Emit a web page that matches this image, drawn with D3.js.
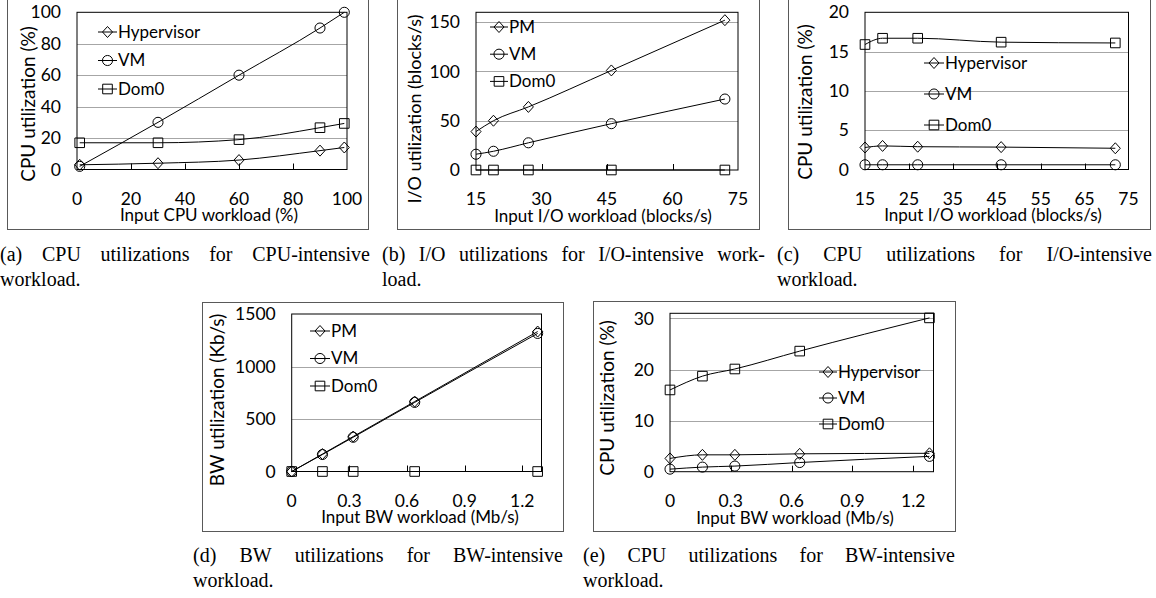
<!DOCTYPE html>
<html lang="en">
<head>
<meta charset="UTF-8">
<title>Utilization charts</title>
<script src="https://d3js.org/d3.v7.min.js"></script>
<style>
  body { margin: 0; background: #fff; }
  .lbl { font-family: Lato, sans-serif; font-size: 17.5px; fill: #000; }
  .leg { font-family: Lato, sans-serif; font-size: 17px; fill: #000; }
  .xtitle { font-family: Lato, sans-serif; font-size: 17px; fill: #000; }
  .ytitle { font-family: Lato, sans-serif; font-size: 19px; fill: #000; }
  .caption { font-family: "Liberation Serif", serif; font-size: 20px; fill: #000; }
  .grid { stroke: #a6a6a6; stroke-width: 1; }
  .frame { fill: none; stroke: #595959; stroke-width: 1; }
  .plot-box { fill: none; stroke: #000; stroke-width: 1; }
  .series { fill: none; stroke: #000; stroke-width: 1; }
  .marker { fill: none; stroke: #000; stroke-width: 1; }
</style>
</head>
<body>
<svg id="chart" width="1156" height="598"></svg>
<script>
// (a) CPU-intensive workload
const cpuLoad = [1, 30, 60, 90, 99];
const cpuHypervisor = [3, 4, 6, 12, 14];
const cpuVM = [2, 30, 60, 90, 100];
const cpuDom0 = [17, 17, 19, 26.6, 29.3];

// (b) and (c) I/O-intensive workload
const ioLoad = [15, 19, 27, 46, 72];
const ioPM = [39, 50, 64, 101, 152];
const ioVM = [16, 19, 27.6, 47, 72];
const ioDom0 = [0, 0, 0, 0, 0];
const ioCpuHypervisor = [2.8, 3.0, 2.9, 2.85, 2.7];
const ioCpuVM = [0.6, 0.6, 0.6, 0.6, 0.6];
const ioCpuDom0 = [15.9, 16.7, 16.7, 16.2, 16.1];

// (d) and (e) BW-intensive workload
const bwLoad = [0, 0.16, 0.32, 0.64, 1.28];
const bwPM = [0, 166, 333, 666, 1333];
const bwVM = [0, 162, 326, 658, 1315];
const bwDom0 = [0, 0, 0, 0, 0];
const bwCpuHypervisor = [2.6, 3.3, 3.3, 3.5, 3.6];
const bwCpuVM = [0.5, 0.9, 1.1, 1.8, 3.0];
const bwCpuDom0 = [16.0, 18.7, 20.1, 23.6, 30.1];

// tick labels
const xTicksCpu = [0, 20, 40, 60, 80, 100];
const xTicksIoB = [15, 30, 45, 60, 75];
const xTicksIoC = [15, 25, 35, 45, 55, 65, 75];
const xTicksBw = [0, 0.3, 0.6, 0.9, 1.2];
const yTicksA = [0, 20, 40, 60, 80, 100];
const yTicksB = [0, 50, 100, 150];
const yTicksC = [0, 5, 10, 15, 20];
const yTicksD = [0, 500, 1000, 1500];
const yTicksE = [0, 10, 20, 30];

const svg = d3.select('#chart');

// marker shapes, drawn around 0,0
const markerPath = {
  diamond: 'M0,-5.5L5,0L0,5.5L-5,0Z',
  circle: d3.symbol(d3.symbolCircle, 80)(),
  square: 'M-4.8,-4.8H4.8V4.8H-4.8Z'
};

const panels = [
  {
    frame: [7, -2, 368, 229], xr: [77, 347], yr: [169.5, 12.3],
    xd: [0, 100], yd: [0, 100], xt: xTicksCpu, yt: yTicksA,
    yTitle: 'CPU utilization (%)', yTitlePos: [28, 104],
    xTitle: 'Input CPU workload (%)', xTitleX: 209,
    legend: { x: 98, y: 32, dy: 28.5, len: 19 },
    series: [
      { name: 'Hypervisor', x: cpuLoad, y: cpuHypervisor, m: 'diamond' },
      { name: 'VM', x: cpuLoad, y: cpuVM, m: 'circle' },
      { name: 'Dom0', x: cpuLoad, y: cpuDom0, m: 'square' }
    ],
    caption: [['(a) CPU utilizations for CPU-intensive', 'workload.'], 0, 370, 261]
  },
  {
    frame: [397, -2, 759, 229], xr: [476, 738], yr: [170, 12.3],
    xd: [15, 75], yd: [0, 160], xt: xTicksIoB, yt: yTicksB,
    yTitle: 'I/O utilization (blocks/s)', yTitlePos: [415, 109], ySize: 18,
    xTitle: 'Input I/O workload (blocks/s)', xTitleX: 603,
    legend: { x: 490, y: 27, dy: 27.2, len: 18 },
    series: [
      { name: 'PM', x: ioLoad, y: ioPM, m: 'diamond' },
      { name: 'VM', x: ioLoad, y: ioVM, m: 'circle' },
      { name: 'Dom0', x: ioLoad, y: ioDom0, m: 'square' }
    ],
    caption: [['(b) I/O utilizations for I/O-intensive work-', 'load.'], 382, 765, 261]
  },
  {
    frame: [788, -2, 1150, 229], xr: [865, 1128.5], yr: [169.5, 12.3],
    xd: [15, 75], yd: [0, 20], xt: xTicksIoC, yt: yTicksC,
    yTitle: 'CPU utilization (%)', yTitlePos: [805, 102],
    xTitle: 'Input I/O workload (blocks/s)', xTitleX: 993,
    legend: { x: 924, y: 63, dy: 31, len: 20 },
    series: [
      { name: 'Hypervisor', x: ioLoad, y: ioCpuHypervisor, m: 'diamond' },
      { name: 'VM', x: ioLoad, y: ioCpuVM, m: 'circle' },
      { name: 'Dom0', x: ioLoad, y: ioCpuDom0, m: 'square' }
    ],
    caption: [['(c) CPU utilizations for I/O-intensive', 'workload.'], 777, 1152, 261]
  },
  {
    frame: [202, 302, 563, 531], xr: [291.7, 541.5], yr: [471.5, 314],
    xd: [0, 1.3], yd: [0, 1500], xt: xTicksBw, yt: yTicksD,
    yTitle: 'BW utilization (Kb/s)', yTitlePos: [217, 400],
    xTitle: 'Input BW workload (Mb/s)', xTitleX: 420,
    legend: { x: 310, y: 331, dy: 27.5, len: 20 },
    series: [
      { name: 'PM', x: bwLoad, y: bwPM, m: 'diamond' },
      { name: 'VM', x: bwLoad, y: bwVM, m: 'circle' },
      { name: 'Dom0', x: bwLoad, y: bwDom0, m: 'square' }
    ],
    caption: [['(d) BW utilizations for BW-intensive', 'workload.'], 193, 563, 562]
  },
  {
    frame: [593, 301, 955, 531], xr: [670, 933.5], yr: [471.7, 313.3],
    xd: [0, 1.3], yd: [0, 31], xt: xTicksBw, yt: yTicksE,
    yTitle: 'CPU utilization (%)', yTitlePos: [607, 398],
    xTitle: 'Input BW workload (Mb/s)', xTitleX: 795,
    legend: { x: 819, y: 372, dy: 26, len: 18 },
    series: [
      { name: 'Hypervisor', x: bwLoad, y: bwCpuHypervisor, m: 'diamond' },
      { name: 'VM', x: bwLoad, y: bwCpuVM, m: 'circle' },
      { name: 'Dom0', x: bwLoad, y: bwCpuDom0, m: 'square' }
    ],
    caption: [['(e) CPU utilizations for BW-intensive', 'workload.'], 583, 955, 562]
  }
];

// justified caption: first line stretched between x0 and x1, second line left aligned
const drawCaption = (lines, x0, x1, y) => {
  const words = lines[0].split(' ');
  const nodes = words.map(w => svg.append('text').attr('class', 'caption').attr('y', y).text(w));
  const widths = nodes.map(n => n.node().getComputedTextLength());
  const gap = (x1 - x0 - d3.sum(widths)) / (words.length - 1);
  let x = x0;
  nodes.forEach((n, i) => { n.attr('x', x); x += widths[i] + gap; });
  svg.append('text').attr('class', 'caption').attr('x', x0).attr('y', y + 25).text(lines[1]);
};

panels.forEach(p => {
  const g = svg.append('g');
  const x = d3.scaleLinear().domain(p.xd).range(p.xr);
  const y = d3.scaleLinear().domain(p.yd).range(p.yr);
  const [fx0, fy0, fx1, fy1] = p.frame;

  g.append('rect').attr('class', 'frame')
    .attr('x', fx0 + 0.5).attr('y', fy0 + 0.5)
    .attr('width', fx1 - fx0).attr('height', fy1 - fy0);

  // gridlines at the inner ticks
  g.selectAll('.grid').data(p.yt.filter(v => v > p.yd[0] && v < p.yd[1]))
    .join('line').attr('class', 'grid')
    .attr('x1', p.xr[0]).attr('x2', p.xr[1])
    .attr('y1', d => Math.round(y(d)) + 0.5).attr('y2', d => Math.round(y(d)) + 0.5);

  // x tick marks pointing up into the plot
  g.selectAll('.xtick').data(p.xt.filter(v => v > p.xd[0] && v < p.xd[1]))
    .join('line').attr('class', 'plot-box')
    .attr('x1', d => Math.round(x(d)) + 0.5).attr('x2', d => Math.round(x(d)) + 0.5)
    .attr('y1', y(p.yd[0])).attr('y2', y(p.yd[0]) - 6);

  g.append('rect').attr('class', 'plot-box')
    .attr('x', p.xr[0]).attr('y', p.yr[1])
    .attr('width', p.xr[1] - p.xr[0]).attr('height', p.yr[0] - p.yr[1]);

  // tick labels
  g.selectAll('.xl').data(p.xt).join('text').attr('class', 'lbl')
    .attr('x', d => x(d)).attr('y', y(p.yd[0]) + 29).attr('dy', '0.35em')
    .attr('text-anchor', 'middle').text(d => d);
  g.selectAll('.yl').data(p.yt).join('text').attr('class', 'lbl')
    .attr('x', p.xr[0] - 16).attr('y', d => y(d)).attr('dy', '0.35em')
    .attr('text-anchor', 'end').text(d => d);

  // axis titles
  g.append('text').attr('class', 'xtitle')
    .attr('x', p.xTitleX).attr('y', y(p.yd[0]) + 46).attr('dy', '0.35em')
    .attr('text-anchor', 'middle').text(p.xTitle);
  g.append('text').attr('class', 'ytitle')
    .attr('transform', `translate(${p.yTitlePos[0]},${p.yTitlePos[1]}) rotate(-90)`)
    .style('font-size', p.ySize ? p.ySize + 'px' : null)
    .attr('dy', '0.35em').attr('text-anchor', 'middle').text(p.yTitle);

  // series lines and markers
  const line = d3.line().x(d => x(d[0])).y(d => y(d[1])).curve(d3.curveMonotoneX);
  p.series.forEach(s => {
    const pts = s.x.map((v, i) => [v, s.y[i]]);
    g.append('path').attr('class', 'series').attr('d', line(pts));
    g.selectAll(null).data(pts).join('path').attr('class', 'marker')
      .attr('transform', d => `translate(${x(d[0])},${y(d[1])})`)
      .attr('d', markerPath[s.m]);
  });

  // legend
  p.series.forEach((s, i) => {
    const ly = p.legend.y + i * p.legend.dy;
    g.append('line').attr('class', 'series')
      .attr('x1', p.legend.x).attr('x2', p.legend.x + p.legend.len)
      .attr('y1', ly).attr('y2', ly);
    g.append('path').attr('class', 'marker')
      .attr('transform', `translate(${p.legend.x + p.legend.len / 2},${ly})`)
      .attr('d', markerPath[s.m]);
    g.append('text').attr('class', 'leg')
      .attr('x', p.legend.x + p.legend.len + 1).attr('y', ly).attr('dy', '0.35em')
      .text(s.name);
  });

  drawCaption(...p.caption);
});
</script>
</body>
</html>
